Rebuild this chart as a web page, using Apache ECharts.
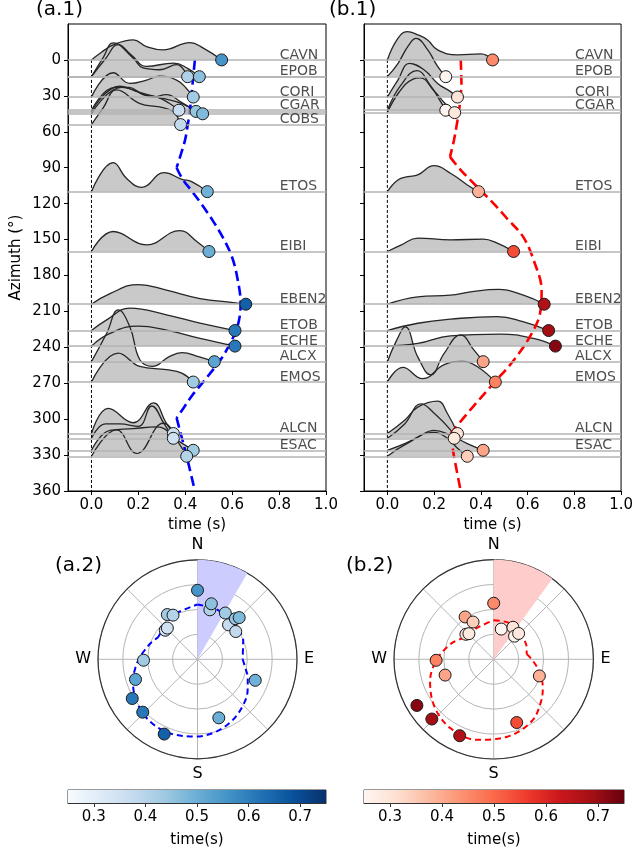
<!DOCTYPE html>
<html><head><meta charset="utf-8">
<script src="https://cdn.jsdelivr.net/npm/echarts@6/dist/echarts.min.js"></script>
<style>html,body{margin:0;padding:0;background:#fff}#c{width:636px;height:851px}</style>
</head><body><div id="c"></div>
<script>
// ---------------- DATA ----------------
const FONT = 'DejaVu Sans';
// panel a: stations (azimuth in degrees, pick time in s)
const azA   = [0, 14, 14, 31, 42, 43, 45, 54, 110, 160, 204, 226, 239, 252, 269, 312, 316, 326, 331];
const timeA = [0.555, 0.41, 0.46, 0.434, 0.373, 0.446, 0.474, 0.38, 0.494, 0.501, 0.658, 0.612, 0.612, 0.524, 0.434, 0.349, 0.349, 0.434, 0.406];
const labelsA   = ['CAVN','EPOB','CORI','CGAR','COBS','ETOS','EIBI','EBEN2','ETOB','ECHE','ALCX','EMOS','ALCN','ESAC'];
const labelAzA  = [0, 14, 31, 42, 54, 110, 160, 204, 226, 239, 252, 269, 312, 326];
// panel b
const azB   = [0, 14, 31, 42, 44, 110, 160, 204, 226, 239, 252, 269, 312, 316, 326, 331];
const timeB = [0.45, 0.25, 0.30, 0.25, 0.288, 0.39, 0.54, 0.671, 0.69, 0.719, 0.41, 0.462, 0.30, 0.286, 0.41, 0.342];
const labelsB   = ['CAVN','EPOB','CORI','CGAR','ETOS','EIBI','EBEN2','ETOB','ECHE','ALCX','EMOS','ALCN','ESAC'];
const labelAzB  = [0, 14, 31, 42, 110, 160, 204, 226, 239, 252, 269, 312, 326];

// waveforms: [time (s), amplitude (deg above baseline)]
const wA_CAVN  = [[0,0],[0.04,6],[0.093,12.5],[0.178,16.7],[0.235,11.1],[0.306,8.4],[0.42,14.5],[0.477,9.8],[0.555,0]];
const wA_EPOB1 = [[0,0],[0.05,16],[0.093,28.2],[0.177,15.6],[0.22,7.3],[0.29,5.8],[0.363,10],[0.41,0]];
const wA_EPOB2 = [[0,0],[0.06,15],[0.114,26.7],[0.17,18],[0.235,8.6],[0.35,11.4],[0.41,7],[0.46,0]];
const wA_CORI  = [[0,0],[0.093,20.3],[0.164,11.4],[0.235,14.2],[0.29,17.5],[0.363,14.2],[0.405,7.2],[0.434,0]];
const wA_CGAR1 = [[0,0],[0.1,19],[0.16,19],[0.22,13],[0.28,11],[0.33,6],[0.373,0]];
const wA_CGAR2 = [[0,0],[0.12,21],[0.2,16],[0.26,12],[0.32,14],[0.38,8],[0.446,0]];
const wA_CGAR3 = [[0,0],[0.13,22],[0.22,17],[0.3,13],[0.38,9],[0.474,0]];
const wA_COBS  = [[0,0],[0.05,14],[0.107,29],[0.207,17.5],[0.29,14.7],[0.35,10.5],[0.38,0]];
const wA_ETOS  = [[0,0],[0.093,24.2],[0.15,11],[0.214,3.6],[0.31,15.9],[0.385,10.3],[0.427,8.4],[0.494,0]];
const wA_EIBI  = [[0,0],[0.093,16.7],[0.235,5.6],[0.377,17.5],[0.449,8.4],[0.501,0]];
const wA_EBEN2 = [[0,0],[0.079,8.9],[0.2,16.4],[0.32,11.7],[0.463,4.7],[0.605,1.4],[0.658,0]];
const wA_ETOB  = [[0,0],[0.065,8.9],[0.164,18.7],[0.32,13.1],[0.463,6.1],[0.612,0]];
const wA_ECHE  = [[0,0],[0.079,10.6],[0.2,16.7],[0.32,13.4],[0.463,6.4],[0.612,0]];
const wA_ALCX  = [[0,0],[0.065,23.7],[0.114,43.2],[0.164,29],[0.207,1.4],[0.26,-4],[0.33,4],[0.385,7.5],[0.46,4],[0.524,0]];
const wA_EMOS  = [[0,0],[0.114,24.2],[0.207,13],[0.32,10.3],[0.385,7.5],[0.434,0]];
const wA_ALCN1 = [[0,0],[0.072,21],[0.178,9],[0.264,25.6],[0.32,8.4],[0.349,0]];
const wA_ALCN2 = [[0,0],[0.06,12],[0.12,12],[0.2,10],[0.257,27],[0.31,12],[0.349,0]];
const wA_ESAC1 = [[0,0],[0.079,16.7],[0.178,18.1],[0.278,19.5],[0.377,7],[0.434,0]];
const wA_ESAC2 = [[0,0],[0.107,22],[0.193,2.5],[0.306,27.6],[0.377,9.5],[0.406,0]];

const wB_CAVN  = [[0,0],[0.045,18],[0.085,23.6],[0.13,21],[0.172,16.7],[0.215,8.4],[0.3,4.2],[0.4,5],[0.45,0]];
const wB_EPOB  = [[0,0],[0.045,11],[0.09,26],[0.123,32],[0.172,22.6],[0.215,8.6],[0.25,0]];
const wB_CORI  = [[0,0],[0.045,14.2],[0.095,28.2],[0.158,22.6],[0.215,11.4],[0.27,4.5],[0.30,0]];
const wB_CGAR1 = [[0,0],[0.057,20.7],[0.127,33],[0.184,20.7],[0.229,6.7],[0.25,0]];
const wB_CGAR2 = [[0,0],[0.05,17],[0.11,28],[0.14,29],[0.2,18],[0.25,7],[0.288,0]];
const wB_ETOS  = [[0,0],[0.045,9.8],[0.088,12.5],[0.13,14],[0.2,21.7],[0.27,15.4],[0.342,5.6],[0.39,0]];
const wB_EIBI  = [[0,0],[0.06,5.6],[0.13,11.2],[0.27,9.8],[0.41,10.3],[0.47,7],[0.54,0]];
const wB_EBEN2 = [[0,0],[0.13,6.1],[0.27,7.5],[0.356,10.3],[0.476,12.3],[0.582,7.5],[0.671,0]];
const wB_ETOB  = [[0,0],[0.13,6.1],[0.27,9.5],[0.47,11.7],[0.58,7.5],[0.69,0]];
const wB_ECHE  = [[0,0],[0.13,2.2],[0.27,8.6],[0.483,10],[0.625,6.4],[0.719,0]];
const wB_ALCX  = [[0,0],[0.04,18],[0.076,29],[0.13,4],[0.186,-11],[0.243,7],[0.314,22.3],[0.37,9.8],[0.41,0]];
const wB_EMOS  = [[0,0],[0.066,12.2],[0.151,2.8],[0.243,14.5],[0.32,17.2],[0.384,13],[0.462,0]];
const wB_ALCN1 = [[0,0],[0.074,11],[0.13,22],[0.215,27],[0.257,16.7],[0.30,0]];
const wB_ALCN2 = [[0,0],[0.074,12],[0.144,28.7],[0.2,21],[0.27,7],[0.286,0]];
const wB_ESAC1 = [[0,0],[0.074,5.6],[0.13,11],[0.2,16.7],[0.27,12.5],[0.342,5.6],[0.41,0]];
const wB_ESAC2 = [[0,0],[0.074,9.5],[0.2,20],[0.257,15],[0.3,6.7],[0.342,0]];

const wavesA = [wA_CAVN,wA_EPOB1,wA_EPOB2,wA_CORI,wA_CGAR1,wA_CGAR2,wA_CGAR3,wA_COBS,wA_ETOS,wA_EIBI,wA_EBEN2,wA_ETOB,wA_ECHE,wA_ALCX,wA_EMOS,wA_ALCN1,wA_ALCN2,wA_ESAC1,wA_ESAC2];
const wavesB = [wB_CAVN,wB_EPOB,wB_CORI,wB_CGAR1,wB_CGAR2,wB_ETOS,wB_EIBI,wB_EBEN2,wB_ETOB,wB_ECHE,wB_ALCX,wB_EMOS,wB_ALCN1,wB_ALCN2,wB_ESAC1,wB_ESAC2];

// model curves: [azimuth, time]
const curveA1 = [[0,0.441],[20,0.431],[42,0.42],[67,0.399],[90,0.363]];
const curveA2 = [[90,0.363],[100,0.39],[110,0.43],[122,0.475],[135,0.52],[150,0.565],[165,0.6],[181,0.621],[203,0.636],[223,0.622],[242,0.577],[252,0.545],[262,0.505],[271,0.468],[280,0.43],[290,0.395],[299,0.363]];
const curveA3 = [[299,0.363],[331,0.406],[360,0.441]];
const curveB1 = [[0,0.314],[20,0.317],[42,0.307],[67,0.285],[81,0.268]];
const curveB2 = [[81,0.268],[92,0.314],[106,0.384],[120,0.455],[132,0.51],[148,0.582],[170,0.631],[192,0.66],[212,0.653],[231,0.61],[251,0.54],[270,0.455],[292,0.356],[312,0.271]];
const curveB3 = [[312,0.271],[331,0.285],[360,0.314]];

// shaded sectors in polar plots [radius, from az, to az]
const sectorA = [0.8, 0, 30];
const sectorB = [0.8, 0, 36];

const timeTicks = [0, 0.2, 0.4, 0.6, 0.8, 1.0];
const azTicks = [0,30,60,90,120,150,180,210,240,270,300,330,360];
const cbTicks = [0.3, 0.4, 0.5, 0.6, 0.7];
const cbRange = [0.25, 0.75];
const compass = {0:'N', 90:'E', 180:'S', 270:'W'};

const BLUES = ['#f7fbff','#deebf7','#c6dbef','#9ecae1','#6baed6','#4292c6','#2171b5','#08519c','#08306b'];
const REDS  = ['#fff5f0','#fee0d2','#fcbba1','#fc9272','#fb6a4a','#ef3b2c','#cb181d','#a50f15','#67000d'];

// ---------------- BUILD ----------------
const series = [];
const scatIdx = {a:[], b:[]};

function addPanel(key, gi, pi, azs, times, waves, labels, labelAz, segs, dashColor, sector, sectorColor, palette) {
  // station baselines
  series.push({type:'line', xAxisIndex:gi, yAxisIndex:gi, data:[], z:2, silent:true, symbol:'none',
    markLine:{symbol:'none', silent:true, animation:false, label:{show:false},
      lineStyle:{color:'#b3b3b3', width:1.5, type:'solid'},
      data: azs.map(a => ({yAxis:a}))}});
  // fills
  waves.forEach((w, i) => {
    series.push({type:'line', xAxisIndex:gi, yAxisIndex:gi, smooth:0.45, symbol:'none', z:1, silent:true,
      lineStyle:{width:0, opacity:0}, areaStyle:{color:'#c9c9c9', opacity:1, origin:azs[i]},
      data: w.map(p => [p[0], azs[i] - p[1]])});
  });
  // outlines
  waves.forEach((w, i) => {
    series.push({type:'line', xAxisIndex:gi, yAxisIndex:gi, smooth:0.45, symbol:'none', z:3, silent:true,
      lineStyle:{color:'#262626', width:1.3},
      data: w.map(p => [p[0], azs[i] - p[1]])});
  });
  // zero-time dashed line
  series.push({type:'line', xAxisIndex:gi, yAxisIndex:gi, symbol:'none', z:4, silent:true,
    lineStyle:{color:'#000', width:1, type:[3,2]}, data:[[0,0],[0,360]]});
  // model curve
  segs.forEach((s, k) => {
    series.push({type:'line', xAxisIndex:gi, yAxisIndex:gi, symbol:'none', z:4, silent:true, smooth: k===1 ? 0.35 : 0.2,
      lineStyle:{color:dashColor, width:2.6, type:[10,5]}, data: s.map(p => [p[1], p[0]])});
  });
  // dots
  scatIdx[key].push(series.length);
  series.push({type:'scatter', xAxisIndex:gi, yAxisIndex:gi, z:6, symbolSize:12,
    itemStyle:{borderColor:'#1a1a1a', borderWidth:1, opacity:1},
    data: azs.map((a, i) => [times[i], a])});
  // station labels
  series.push({type:'scatter', xAxisIndex:gi, yAxisIndex:gi, z:6, symbolSize:0.1, silent:true,
    itemStyle:{color:'rgba(0,0,0,0)'},
    label:{show:true, position:[0,0], align:'left', verticalAlign:'bottom', offset:[0,2], formatter:p => p.data[2],
      fontSize:14, color:'#222', fontFamily:FONT},
    data: labelAz.map((a, i) => [0.803, a, labels[i]])});

  // polar: sector
  series.push({type:'custom', coordinateSystem:'polar', polarIndex:pi, z:1, silent:true,
    data:[sector],
    renderItem:(params, api) => {
      const r = api.value(0), a0 = api.value(1), a1 = api.value(2);
      const pts = [api.coord([0, a0])];
      for (let a = a0; a <= a1 + 1e-9; a += 1) pts.push(api.coord([r, a]));
      return {type:'polygon', shape:{points:pts}, style:{fill:sectorColor}};
    }});
  // polar: model curve
  segs.forEach((s, k) => {
    series.push({type:'line', coordinateSystem:'polar', polarIndex:pi, symbol:'none', z:4, silent:true,
      smooth: k===1 ? 0.35 : 0.2,
      lineStyle:{color:dashColor, width:2, type:[6,4]}, data: s.map(p => [p[1], p[0]])});
  });
  // polar: dots
  scatIdx[key].push(series.length);
  series.push({type:'scatter', coordinateSystem:'polar', polarIndex:pi, z:6, symbolSize:12,
    itemStyle:{borderColor:'#1a1a1a', borderWidth:1, opacity:1},
    data: azs.map((a, i) => [times[i], a])});
  // colorbar
  series.push({type:'custom', xAxisIndex:gi+2, yAxisIndex:gi+2, silent:true, z:2,
    data:[[cbRange[0], cbRange[1]]],
    renderItem:(params, api) => {
      const p0 = api.coord([api.value(0), 1]);
      const p1 = api.coord([api.value(1), 0]);
      const stops = palette.map((c, i) => ({offset: i/(palette.length-1), color:c}));
      return {type:'rect', shape:{x:p0[0], y:p0[1], width:p1[0]-p0[0], height:p1[1]-p0[1]},
        style:{fill:new echarts.graphic.LinearGradient(0,0,1,0,stops)}};
    }});
}

addPanel('a', 0, 0, azA, timeA, wavesA, labelsA, labelAzA, [curveA1,curveA2,curveA3], '#0000ff', sectorA, '#ccccff', BLUES);
addPanel('b', 1, 1, azB, timeB, wavesB, labelsB, labelAzB, [curveB1,curveB2,curveB3], '#ff0000', sectorB, '#ffcccc', REDS);

const txt = {fontFamily:FONT, color:'#000'};
function timeAxis(gi) {
  return {gridIndex:gi, type:'value', min:-0.1, max:1.0, name:'time (s)', nameLocation:'middle', nameGap:27,
    nameTextStyle:Object.assign({fontSize:15}, txt),
    axisLine:{show:true, onZero:false, lineStyle:{color:'#000'}},
    axisTick:{show:true, length:4, customValues:timeTicks, lineStyle:{color:'#000'}},
    axisLabel:Object.assign({customValues:timeTicks, formatter:v => v.toFixed(1), fontSize:15, margin:7}, txt),
    splitLine:{show:false}};
}
function azAxis(gi, showLabels) {
  return {gridIndex:gi, type:'value', inverse:true, min:-30, max:360,
    name: showLabels ? 'Azimuth (°)' : '', nameLocation:'middle', nameGap:44, nameRotate:90,
    nameTextStyle:Object.assign({fontSize:15}, txt),
    axisLine:{show:true, onZero:false, lineStyle:{color:'#000'}},
    axisTick:{show:true, length:4, customValues:azTicks, lineStyle:{color:'#000'}},
    axisLabel:Object.assign({show:showLabels, customValues:azTicks, fontSize:15, margin:7}, txt),
    splitLine:{show:false}};
}
function cbAxis(gi) {
  return {gridIndex:gi, type:'value', min:cbRange[0], max:cbRange[1], name:'time(s)', nameLocation:'middle', nameGap:30,
    nameTextStyle:Object.assign({fontSize:15}, txt),
    axisLine:{show:true, onZero:false, lineStyle:{color:'#333'}},
    axisTick:{show:true, length:4, customValues:cbTicks, lineStyle:{color:'#333'}},
    axisLabel:Object.assign({customValues:cbTicks, formatter:v => v.toFixed(1), fontSize:15, margin:7}, txt),
    splitLine:{show:false}};
}
function angAxis(pi) {
  return {polarIndex:pi, type:'value', min:0, max:360, interval:45, startAngle:90, clockwise:true,
    axisLine:{show:true, lineStyle:{color:'#333', width:1.2}},
    axisTick:{show:false},
    axisLabel:Object.assign({formatter:v => compass[v] || '', fontSize:16, margin:7}, txt),
    splitLine:{show:true, lineStyle:{color:'#b5b5b5', width:1}}};
}
function radAxis(pi) {
  return {polarIndex:pi, type:'value', min:0, max:0.8, interval:0.2,
    axisLine:{show:false}, axisTick:{show:false}, axisLabel:{show:false},
    splitLine:{show:true, lineStyle:{color:'#b5b5b5', width:1}}};
}
const ttl = (t, l, tp) => ({text:t, left:l, top:tp, padding:0, textStyle:{fontSize:20, fontWeight:'normal', color:'#000', fontFamily:FONT}});

const option = {
  animation:false,
  backgroundColor:'#fff',
  textStyle:{fontFamily:FONT},
  title:[ttl('(a.1)',36,0), ttl('(b.1)',329,0), ttl('(a.2)',55,556), ttl('(b.2)',346,556)],
  grid:[
    {left:68, top:24, width:258, height:467, show:true, borderColor:'#000', borderWidth:1, backgroundColor:'transparent'},
    {left:364, top:24, width:260, height:467, show:true, borderColor:'#000', borderWidth:1, backgroundColor:'transparent'},
    {left:68, top:790, width:258, height:13, show:true, borderColor:'#333', borderWidth:1, backgroundColor:'transparent'},
    {left:364, top:790, width:260, height:13, show:true, borderColor:'#333', borderWidth:1, backgroundColor:'transparent'}
  ],
  xAxis:[timeAxis(0), timeAxis(1), cbAxis(2), cbAxis(3)],
  yAxis:[azAxis(0,true), azAxis(1,false),
    {gridIndex:2, type:'value', min:0, max:1, show:false},
    {gridIndex:3, type:'value', min:0, max:1, show:false}],
  polar:[{center:[197.5,659.3], radius:99.5}, {center:[493.7,659.3], radius:99.7}],
  angleAxis:[angAxis(0), angAxis(1)],
  radiusAxis:[radAxis(0), radAxis(1)],
  visualMap:[
    {type:'continuous', show:false, min:cbRange[0], max:cbRange[1], dimension:0, seriesIndex:scatIdx.a, inRange:{color:BLUES}},
    {type:'continuous', show:false, min:cbRange[0], max:cbRange[1], dimension:0, seriesIndex:scatIdx.b, inRange:{color:REDS}}
  ],
  series: series
};

const chart = echarts.init(document.getElementById('c'), null, {renderer:'canvas', width:636, height:851});
chart.setOption(option);
</script></body></html>
